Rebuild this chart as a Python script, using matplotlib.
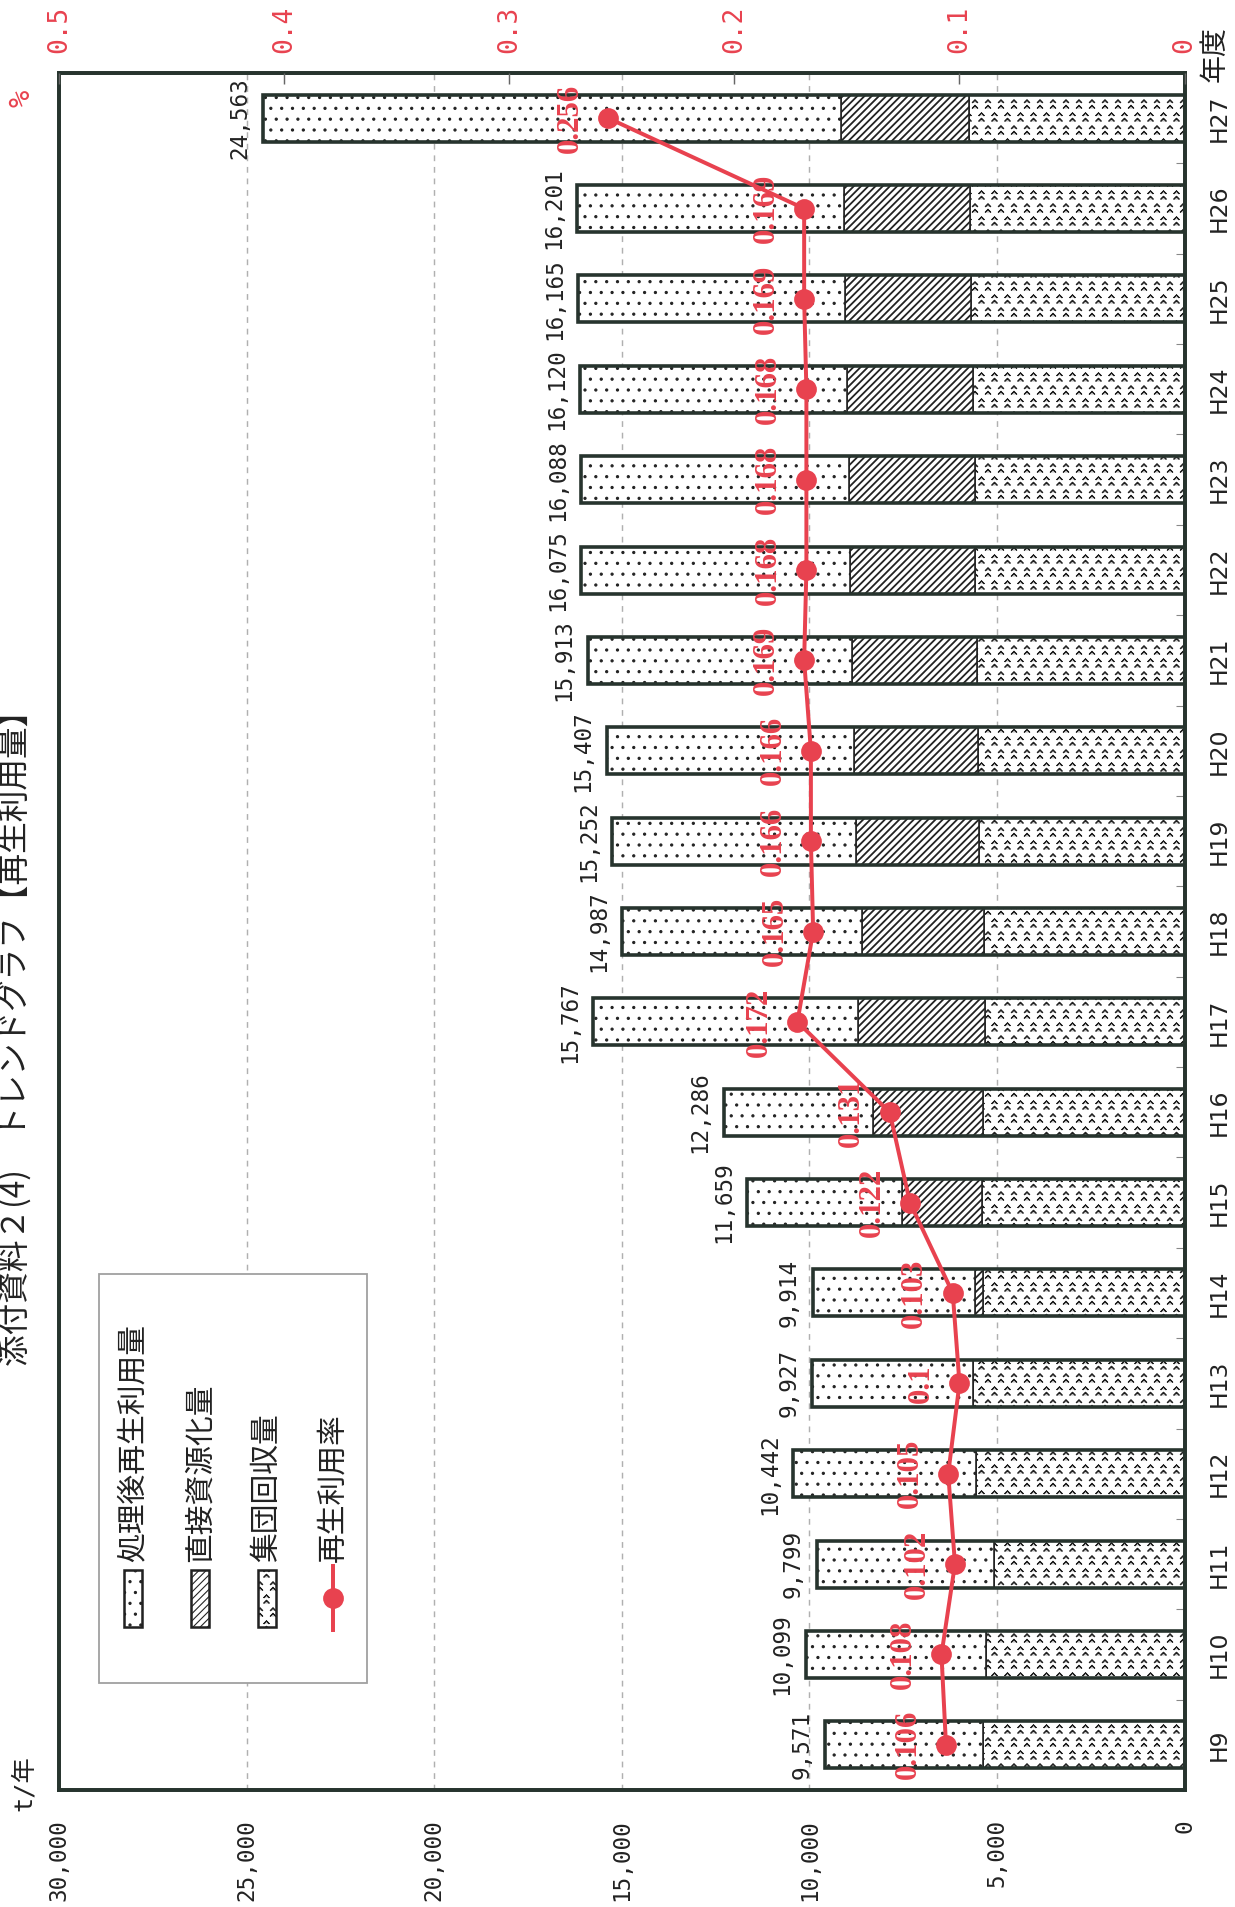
import numpy as np
import matplotlib
matplotlib.use("Agg")
import matplotlib.pyplot as plt
from matplotlib import hatch as mhatch
from matplotlib.path import Path
from matplotlib.patches import Rectangle
from matplotlib.lines import Line2D

# ---- data ----
years = ["H9", "H10", "H11", "H12", "H13", "H14", "H15", "H16", "H17", "H18",
         "H19", "H20", "H21", "H22", "H23", "H24", "H25", "H26", "H27"]
processed = [4190, 4809, 4709, 4880, 4275, 4325, 4138, 3979, 7071, 6390,
             6500, 6583, 7060, 7163, 7139, 7118, 7125, 7116, 15411]
direct = [0, 0, 0, 0, 0, 208, 2114, 2945, 3379, 3254,
          3262, 3307, 3307, 3331, 3350, 3368, 3353, 3360, 3409]
collective = [5381, 5290, 5090, 5562, 5652, 5381, 5407, 5362, 5317, 5343,
              5490, 5517, 5546, 5581, 5599, 5634, 5687, 5725, 5743]
totals = [9571, 10099, 9799, 10442, 9927, 9914, 11659, 12286, 15767, 14987,
          15252, 15407, 15913, 16075, 16088, 16120, 16165, 16201, 24563]
rate = [0.106, 0.108, 0.102, 0.105, 0.1, 0.103, 0.122, 0.131, 0.172, 0.165,
        0.166, 0.166, 0.169, 0.168, 0.168, 0.168, 0.169, 0.169, 0.256]
legend_labels = ["処理後再生利用量", "直接資源化量", "集団回収量", "再生利用率"]
ton_ticks = [0, 5000, 10000, 15000, 20000, 25000, 30000]
pct_ticks = [0, 0.1, 0.2, 0.3, 0.4, 0.5]


# small "^" / "v" marks for the 集団回収量 fill (takes the place of the 'O' hatch)
class CaretHatch(mhatch.Shapes):
    size = 1.0
    filled = False

    def __init__(self, hatch, density):
        self.num_rows = int(hatch.count('O') * density * 5 // 6)
        self.shape_vertices = np.array([[-0.2, 0.12], [0.0, 0.32], [0.2, 0.12],
                                        [-0.2, -0.32], [0.0, -0.12], [0.2, -0.32]])
        self.shape_codes = np.array([Path.MOVETO, Path.LINETO, Path.LINETO,
                                     Path.MOVETO, Path.LINETO, Path.LINETO],
                                    dtype=Path.code_type)
        super().__init__(hatch, density)


mhatch._hatch_types = [CaretHatch if t is mhatch.LargeCircles else t
                       for t in mhatch._hatch_types]

RED = "#e8424f"
DARK = "#27342e"
INK = "#222222"
MONO = "DejaVu Sans Mono"
CJK = "Noto Sans CJK JP"
plt.rcParams["hatch.color"] = INK

W, H = 1235, 1907
DPI = 130
fig = plt.figure(figsize=(W / DPI, H / DPI), dpi=DPI)


def fx(px):
    return px / W


def fy(py):
    return 1 - py / H


ax = fig.add_axes([fx(59), fy(1790), (1184.6 - 59) / W, (1790 - 73) / H])

y = np.arange(len(years))
bh = 0.52
cum1 = np.array(collective)
cum2 = cum1 + np.array(direct)

plt.rcParams["hatch.linewidth"] = 0.6
ax.barh(y, collective, height=bh, color="white", hatch="OO",
        edgecolor=INK, lw=0.9, zorder=2)
plt.rcParams["hatch.linewidth"] = 1.0
ax.barh(y, direct, left=cum1, height=bh, color="white", hatch="//////",
        edgecolor=INK, lw=0.9, zorder=2)
plt.rcParams["hatch.linewidth"] = 0.6
ax.barh(y, processed, left=cum2, height=bh, color="white", hatch="..",
        edgecolor=INK, lw=0.9, zorder=2)
ax.barh(y, totals, height=bh, fill=False, edgecolor=DARK, lw=2.0, zorder=3)

for i, t in enumerate(totals):
    ax.annotate(f"{t:,}", (t, i), xytext=(-13, 0), textcoords="offset points",
                rotation=90, ha="center", va="center", fontsize=12.5,
                family=MONO, color=INK)

ax.set_xlim(30000, 0)
ax.set_ylim(-0.5, len(years) - 0.5)
ax.set_xticks(ton_ticks)
ax.set_xticklabels([f"{v:,}" for v in ton_ticks], rotation=90,
                   family=MONO, fontsize=12.5, color=INK)
ax.tick_params(axis="x", length=0, pad=16)
ax.xaxis.grid(True, linestyle=(0, (4, 4)), color="#b0b0b0", lw=0.8)
ax.set_axisbelow(True)

ax.yaxis.tick_right()
ax.set_yticks(y)
ax.set_yticklabels(years, rotation=90, va="center", fontsize=13, color=INK)
ax.set_yticks(np.arange(-0.5, len(years), 1), minor=True)
ax.tick_params(axis="y", which="major", length=0, pad=13)
ax.tick_params(axis="y", which="minor", direction="in", length=5,
               color="#888888", right=True, left=False)
for s in ax.spines.values():
    s.set_linewidth(2.2)
    s.set_color(DARK)

# rate line on the percent axis
ax2 = ax.twiny()
ax2.set_xlim(0.5, 0)
ax2.plot(rate, y, color=RED, lw=2.2, marker="o", ms=10.5, zorder=5)
for i, r in enumerate(rate):
    ax2.annotate(f"{r:g}", (r, i), xytext=(-21, 0), textcoords="offset points",
                 rotation=90, ha="center", va="center", fontsize=17,
                 family="Liberation Serif", weight="bold", color=RED, zorder=6)
ax2.set_xticks(pct_ticks)
ax2.set_xticklabels([f"{v:g}" for v in pct_ticks], rotation=90,
                    family=MONO, fontsize=14.5, color=RED)
ax2.tick_params(axis="x", direction="in", length=6, color="#666666", pad=11)
for s in ax2.spines.values():
    s.set_visible(False)

# axis captions and title
fig.text(fx(16), fy(1030), "添付資料２(4)　トレンドグラフ【再生利用量】",
         rotation=90, ha="center", va="center", fontsize=17.5,
         family=CJK, color=INK)
fig.text(fx(22), fy(98), "%", rotation=90, ha="center", va="center",
         fontsize=16, color=RED, family=MONO)
fig.text(fx(24), fy(1783), "t/年", rotation=90, ha="center", va="center",
         fontsize=14, color=INK, family=[MONO, CJK])
fig.text(fx(1215), fy(54), "年度", rotation=90, ha="center", va="center",
         fontsize=15.5, color=INK, family=CJK)

# legend (rotated, so drawn by hand)
fig.add_artist(Rectangle((fx(99), fy(1683)), (367 - 99) / W, (1683 - 1274) / H,
                         transform=fig.transFigure, facecolor="white",
                         edgecolor="#a0a0a0", lw=1.0, zorder=5))
cols = [133, 200, 267, 333]
for c, hp in zip(cols[:3], ["..", "//////", "OO"]):
    fig.add_artist(Rectangle((fx(c - 9), fy(1627)), 18 / W, 57 / H,
                             transform=fig.transFigure, facecolor="white",
                             hatch=hp, edgecolor=INK, lw=1.4, zorder=6))
fig.add_artist(Line2D([fx(cols[3]), fx(cols[3])], [fy(1630), fy(1566)],
                      transform=fig.transFigure, color=RED, lw=2.2, zorder=6))
fig.add_artist(Line2D([fx(cols[3])], [fy(1598)], transform=fig.transFigure,
                      color=RED, marker="o", ms=10.5, zorder=7))
for c, lab in zip(cols, legend_labels):
    fig.text(fx(c), fy(1562), lab, rotation=90, ha="center", va="bottom",
             fontsize=16.5, family=CJK, color=INK, zorder=7)

fig.savefig("out.png", dpi=DPI)
